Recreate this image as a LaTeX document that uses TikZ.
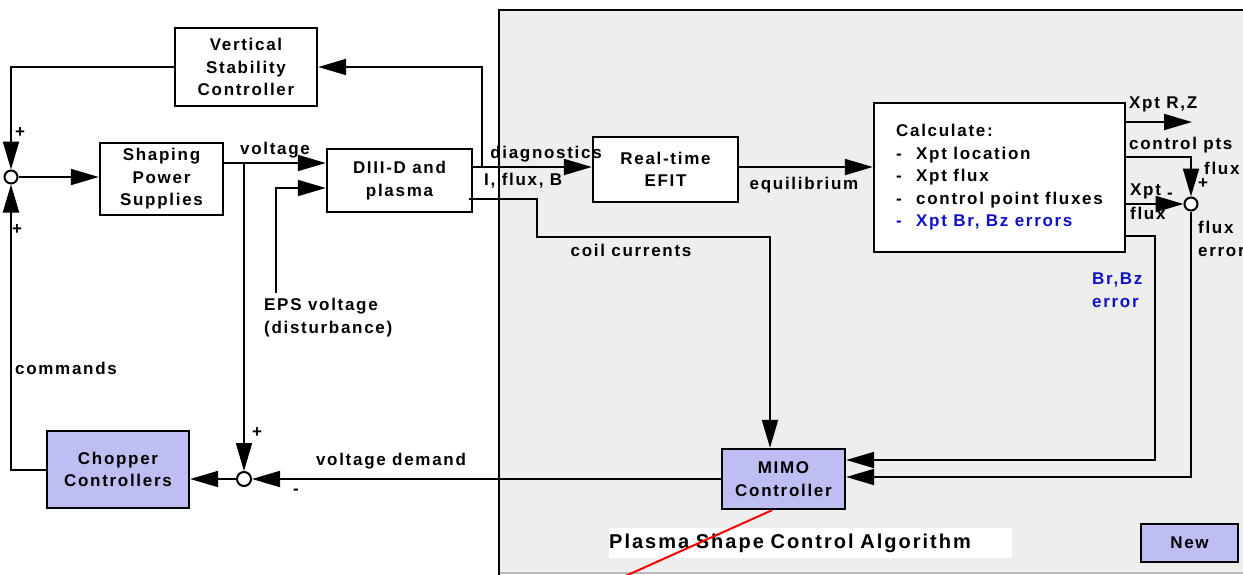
\documentclass[tikz,border=0pt]{standalone}
\usepackage{fontspec}
\setmainfont{Liberation Sans}[LetterSpace=10]
\usetikzlibrary{arrows.meta,calc}
\definecolor{panelgray}{HTML}{EEEEEE}
\definecolor{lav}{HTML}{BEBEF2}
\definecolor{bluetxt}{HTML}{1010C8}
\begin{document}
\begin{tikzpicture}[x=1pt,y=-1pt,
  every node/.style={font=\fontsize{17}{22.5}\selectfont\bfseries, inner sep=0pt},
  box/.style={draw, line width=2.4pt, fill=white, align=center},
  lbox/.style={box, fill=lav},
  sumj/.style={circle, draw, line width=2pt, fill=white, minimum size=13pt},
  conn/.style={line width=2pt},
  arr/.style={conn, -{Triangle[length=28pt 0,width=16pt 0]}},
  sgn/.style={font=\fontsize{17}{18}\selectfont\bfseries},
  ]
\useasboundingbox (0,0) rectangle (1243,574);
% panel
\fill[panelgray] (499,10) rectangle (1260,573);
\draw[gray!55, line width=1.5pt] (499,573) -- (1260,573);
\draw[line width=2pt] (499,600) -- (499,10) -- (1260,10);

% boxes
\node[box, minimum width=142pt, minimum height=78pt] (vsc) at (246,67) {Vertical\\Stability\\Controller};
\node[box, minimum width=123pt, minimum height=72pt] (sps) at (161.5,179) {Shaping\\Power\\Supplies};
\node[box, minimum width=145pt, minimum height=63pt] (diiid) at (399.5,180.5) {DIII-D and\\plasma};
\node[box, minimum width=145pt, minimum height=65pt] (efit) at (665.5,169.5) {Real-time\\EFIT};
\node[box, minimum width=251pt, minimum height=149pt, align=left] (calc) at (999.5,177.5)
  {Calculate:\\
   \makebox[20pt][l]{-}Xpt location\\
   \makebox[20pt][l]{-}Xpt flux\\
   \makebox[20pt][l]{-}control point fluxes\\
   {\color{bluetxt}\makebox[20pt][l]{-}Xpt Br, Bz errors}};
\node[lbox, minimum width=123pt, minimum height=60pt] (mimo) at (783.5,479) {MIMO\\Controller};
\node[lbox, minimum width=142pt, minimum height=77pt] (chop) at (118,469.5) {Chopper\\Controllers};
\node[lbox, minimum width=97pt, minimum height=38pt] (new) at (1189.5,543) {New};

% summing junctions
\node[sumj] (sj1) at (11,177) {};
\node[sumj, minimum size=14pt] (sj2) at (244,479) {};
\node[sumj] (sj3) at (1191,204) {};

% connectors left
\draw[arr] (vsc.west) -| (sj1.north);
\draw[arr] (chop.west) -| (sj1.south);
\draw[arr] (sj1.east) -- (sj1.east -| sps.west);
\draw[arr] ([yshift=16pt]sps.east) coordinate (v0) -- (v0 -| diiid.west);
\draw[arr] (sj2 |- v0) -- (sj2.north);
\coordinate (eps) at (276,293);
\draw[arr] (eps) |- ([yshift=-7.5pt]diiid.west);
\draw[arr] ([yshift=13.5pt]diiid.east) coordinate (d0) -- (d0 -| efit.west);
\coordinate (tap) at (482,167);
\draw[arr] (tap) |- (vsc.east);
\coordinate (cc) at (537,237);
\draw[arr] ([xshift=-4pt,yshift=-18.5pt]diiid.east) -| (cc) -| ([xshift=-13.5pt]mimo.north);
\draw[arr] (mimo.west) -- (sj2.east);
\draw[arr] (sj2.west) -- (sj2.west -| chop.east);

% connectors right
\draw[arr] ([yshift=2.5pt]efit.east) coordinate (e0) -- (e0 -| calc.west);
\coordinate (rz) at (1192,122);
\draw[arr] (calc.east |- rz) -- (rz);
\draw[arr] ([yshift=20.5pt]calc.east) -| (sj3.north);
\draw[arr] ([yshift=-26.5pt]calc.east) -- (sj3.west);
\draw[arr] (sj3.south) |- ([yshift=2pt]mimo.east);
\coordinate (bzc) at (1155,460);
\draw[arr] ([yshift=-58.5pt]calc.east) -| (bzc) -- (bzc -| mimo.east);

% labels
\node[sgn] (p1) at (20,133) {+};
\node[sgn] (p2) at (17,230) {+};
\node[sgn] (p3) at (257,433) {+};
\node[sgn] (m1) at (296,492) {-};
\node (lvolt) at (275,150) {voltage};
\node (ldiag) at (546,154) {diagnostics};
\node[anchor=west] (lifb) at (484,181) {I, flux, B};
\node (lcoil) at (631,250) {coil currents};
\node (lequ) at (804,185) {equilibrium};
\node[anchor=north west, align=left] (leps) at (264,298) {EPS voltage\\(disturbance)};
\node (lcmd) at (66,368) {commands};
\node (lvd) at (391,461) {voltage demand};
\node[anchor=west] (lrz) at (1129,104) {Xpt R,Z};
\node[anchor=west] (lcp) at (1129,145) {control pts};
\node[anchor=west] (lcpf) at (1204,168) {flux};
\node[anchor=west] (lxf) at (1130,191) {Xpt};
\node[anchor=west] (lxf2) at (1130,213) {flux};
\node[sgn] (m2) at (1170,196) {-};
\node[sgn] (p4) at (1203,184) {+};
\node[anchor=north west, align=left] (lfe) at (1198,221) {flux\\error};
\node[anchor=north west, align=left, text=bluetxt] (lbz) at (1092,273) {Br,Bz\\error};

% title
\node[fill=white, anchor=west, minimum height=30pt, text width=403pt, align=left,
      font=\fontsize{20}{24}\selectfont\bfseries] (title) at (609,543) {Plasma Shape Control Algorithm};
\coordinate (redend) at (612,582);
\draw[red, line width=2pt] ([xshift=-11.5pt]mimo.south) -- (redend);
\end{tikzpicture}
\end{document}
